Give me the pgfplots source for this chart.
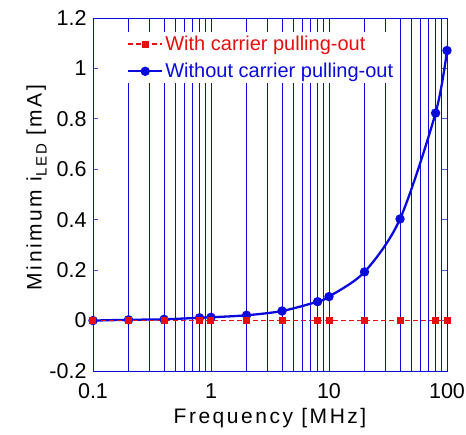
\documentclass[border=0pt]{standalone}
\usepackage{fontspec}
\setmainfont{Liberation Sans}
\newfontfamily\labfont[LetterSpace=12]{Liberation Sans}
\usepackage{pgfplots}
\pgfplotsset{compat=1.18}
\definecolor{cblue}{RGB}{10,10,220}
\definecolor{cred}{RGB}{230,15,15}
\begin{document}
\begin{tikzpicture}
\begin{semilogxaxis}[
  scale only axis, width=354pt, height=353pt,
  at={(0,0)}, anchor=south west,
  xmin=0.1, xmax=100, ymin=-0.2, ymax=1.2,
  axis line style={cblue, line width=0.8pt},
  xtick={0.1,1,10,100}, xticklabels={0.1,1,10,100},
  minor xtick={0.2,0.3,0.4,0.5,0.6,0.7,0.8,0.9,2,3,4,5,6,7,8,9,20,30,40,50,60,70,80,90},
  xmajorgrids, xminorgrids,
  grid style={cblue, line width=0.7pt},
  minor grid style={cblue, line width=0.7pt},
  ytick={-0.2,0,0.2,0.4,0.6,0.8,1,1.2},
  yticklabels={-0.2,0,0.2,0.4,0.6,0.8,1,1.2},
  tick align=inside, tick pos=both,
  major tick length=5pt, minor tick length=0pt,
  tick style={cblue!70, line width=0.8pt},
  xtick style={draw=none},
  tick label style={font=\fontsize{21.5}{24}\selectfont, black},
  /pgf/number format/assume math mode=true,
  xticklabel style={yshift=-9pt},
  yticklabel style={xshift=-3pt},
  xlabel={\labfont Frequency [MHz]},
  ylabel={\labfont Minimum i\raisebox{-0.45ex}{\fontsize{15}{15}\selectfont LED} [mA]},
  label style={font=\fontsize{21}{24}\selectfont, black},
  xlabel style={yshift=-3pt},
  ylabel style={yshift=-4pt, xshift=7pt},
  clip=false,
  legend cell align=left,
  legend style={at={(0.09,0.96)}, anchor=north west, draw=none, fill=white,
    font=\fontsize{20}{23}\selectfont, row sep=7pt, inner sep=2pt},
  legend image code/.code={\draw[mark repeat=2, mark phase=2, #1] plot coordinates {(0pt,0pt) (17pt,0pt) (34pt,0pt)};},
]
\addplot[cblue, line width=2.3pt, smooth, mark=*, mark size=3.5pt, mark options={fill=cblue}, forget plot]
  coordinates {(0.1,0) (0.2,0.003) (0.4,0.005) (0.8,0.011) (1,0.013) (2,0.021) (4,0.038) (8,0.075) (10,0.095) (20,0.193) (40,0.403) (80,0.823) (100,1.071)};
\addplot[cred, line width=1.8pt, dash pattern=on 5pt off 3pt, mark=square*, mark size=2.6pt, mark options={solid, fill=cred}]
  coordinates {(0.1,0) (0.2,0) (0.4,0) (0.8,0) (1,0) (2,0) (4,0) (8,0) (10,0) (20,0) (40,0) (80,0) (100,0)};
\addlegendentry{\textcolor{cred}{With carrier pulling-out}}
\addlegendimage{cblue, line width=2.3pt, mark=*, mark size=3.5pt, mark options={fill=cblue}}
\addlegendentry{\textcolor{cblue}{Without carrier pulling-out}}
\end{semilogxaxis}
\pgfresetboundingbox
\path[use as bounding box] (-93pt,-63pt) rectangle (373pt,371pt);
\end{tikzpicture}
\end{document}
